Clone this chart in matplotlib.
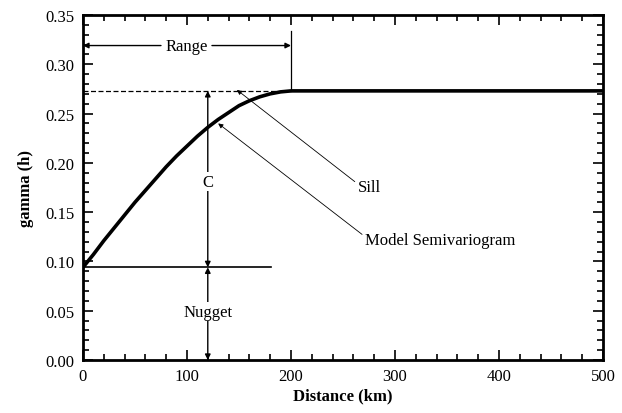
import numpy as np
import matplotlib.pyplot as plt
from matplotlib.ticker import MultipleLocator

# model semivariogram
distKm = [0, 10, 20, 30, 40, 50, 60, 70, 80, 90, 100, 110, 120, 130, 140, 150,
          160, 170, 180, 190, 200, 500]
gammaVals = [0.094, 0.107, 0.121, 0.134, 0.147, 0.160, 0.172, 0.184, 0.196, 0.207,
             0.217, 0.227, 0.236, 0.244, 0.251, 0.258, 0.263, 0.267, 0.270, 0.272,
             0.273, 0.273]

nugget = 0.094
sill = 0.273
rangeKm = 200
cX = 120
nuggetLineEnd = 181
rangeY = 0.319

plt.rcParams['font.family'] = ['Liberation Serif', 'DejaVu Serif']

fig = plt.figure(figsize=(6.22, 4.14), dpi=100)
ax = fig.add_axes([0.1334, 0.128, 0.8361, 0.8334])

ax.plot(distKm, gammaVals, color='black', lw=2.6, solid_capstyle='butt', zorder=3)
ax.plot([0, rangeKm], [sill, sill], color='black', lw=0.9, ls=(0, (4, 2)))
ax.plot([0, nuggetLineEnd], [nugget, nugget], color='black', lw=1.2)
ax.plot([rangeKm, rangeKm], [sill, 0.334], color='black', lw=0.9)

arrowKw = dict(arrowstyle='-|>', color='black', lw=1.0, mutation_scale=8, shrinkA=0, shrinkB=0)

# range arrows
ax.text(100, rangeY, 'Range', ha='center', va='center', fontsize=12)
ax.annotate('', xy=(0, rangeY), xytext=(75, rangeY), arrowprops=arrowKw)
ax.annotate('', xy=(rangeKm, rangeY), xytext=(124, rangeY), arrowprops=arrowKw)

# C arrows
cY = 0.181
ax.annotate('', xy=(cX, sill), xytext=(cX, cY), arrowprops=arrowKw, zorder=2)
ax.annotate('', xy=(cX, nugget), xytext=(cX, cY), arrowprops=arrowKw, zorder=2)
ax.text(cX, cY, 'C', ha='center', va='center', fontsize=12, zorder=4,
        bbox=dict(facecolor='white', edgecolor='none', pad=1))

# nugget arrows
nY = 0.049
ax.annotate('', xy=(cX, nugget), xytext=(cX, nY), arrowprops=arrowKw, zorder=2)
ax.annotate('', xy=(cX, 0), xytext=(cX, nY), arrowprops=arrowKw, zorder=2)
ax.text(cX, nY, 'Nugget', ha='center', va='center', fontsize=12, zorder=4,
        bbox=dict(facecolor='white', edgecolor='none', pad=1))

thinArrow = dict(arrowstyle='-|>', color='black', lw=0.6, mutation_scale=7, shrinkA=0, shrinkB=0)
ax.annotate('Sill', xy=(148, 0.274), xytext=(264, 0.1755), fontsize=12,
            ha='left', va='center', arrowprops=dict(thinArrow, relpos=(0, 0.7)))
ax.annotate('Model Semivariogram', xy=(130, 0.240), xytext=(271, 0.122), fontsize=12,
            ha='left', va='center', arrowprops=dict(thinArrow, relpos=(0, 0.7)))

ax.set_xlim(0, 500)
ax.set_ylim(0, 0.35)
ax.xaxis.set_major_locator(MultipleLocator(100))
ax.xaxis.set_minor_locator(MultipleLocator(20))
ax.yaxis.set_major_locator(MultipleLocator(0.05))
ax.yaxis.set_minor_locator(MultipleLocator(0.01))
ax.yaxis.set_major_formatter(plt.FormatStrFormatter('%.2f'))
ax.tick_params(which='both', direction='in', top=True, right=True, labelsize=12, width=1.2)
ax.tick_params(which='major', length=7, pad=6)
ax.tick_params(which='minor', length=4)
for s in ax.spines.values():
    s.set_linewidth(2)

ax.set_xlabel('Distance (km)', fontsize=12, fontweight='bold', labelpad=2)
ax.set_ylabel('gamma (h)', fontsize=12, fontweight='bold', labelpad=8)

fig.savefig('out.png', dpi=100)
